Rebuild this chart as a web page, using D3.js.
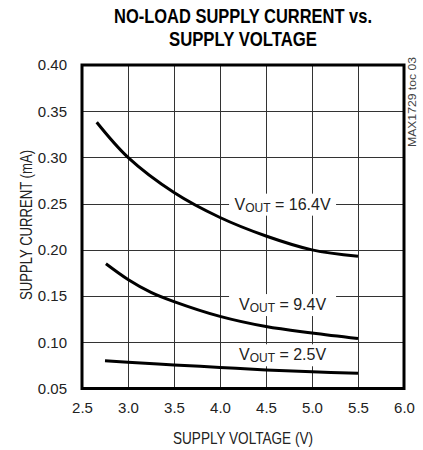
<!DOCTYPE html>
<html lang="en">
<head>
<meta charset="utf-8">
<title>No-load supply current</title>
<script src="https://d3js.org/d3.v7.min.js"></script>
<style>
  body { margin: 0; background: #fff; }
  text { font-family: "Liberation Sans", Arial, sans-serif; fill: #222; }
  .title { font-weight: bold; font-size: 20px; fill: #000; }
  .tick text { font-size: 15px; }
  .axis-title { font-size: 16px; }
  .curve-label { font-size: 16px; }
  .side-note { font-size: 11px; fill: #444; }
</style>
</head>
<body>
<div id="chart"></div>
<script>
// data
var xTicks = [2.5, 3.0, 3.5, 4.0, 4.5, 5.0, 5.5, 6.0];
var yTicks = [0.05, 0.10, 0.15, 0.20, 0.25, 0.30, 0.35, 0.40];

var vin16 = [2.66, 3.0, 3.5, 4.0, 4.5, 5.0, 5.5];
var icc16 = [0.338, 0.300, 0.262, 0.235, 0.215, 0.200, 0.193];

var vin9 = [2.76, 3.0, 3.25, 3.5, 4.0, 4.5, 5.0, 5.5];
var icc9 = [0.185, 0.168, 0.154, 0.144, 0.128, 0.117, 0.110, 0.104];

var vin2 = [2.75, 3.0, 3.5, 4.0, 4.5, 5.0, 5.5];
var icc2 = [0.080, 0.0785, 0.0755, 0.0728, 0.0700, 0.0680, 0.0665];

var seriesNames = ["16.4V", "9.4V", "2.5V"];

var width = 423, height = 450;
var plotL = 82, plotR = 404, plotT = 65, plotB = 388.5;

var x = d3.scaleLinear().domain([2.5, 6.0]).range([plotL, plotR]);
var y = d3.scaleLinear().domain([0.05, 0.40]).range([plotB, plotT]);

var svg = d3.select("#chart").append("svg")
  .attr("width", width)
  .attr("height", height);

// title (condensed face squeezed with textLength)
svg.append("text").attr("class", "title")
  .attr("x", 243).attr("y", 23).attr("text-anchor", "middle")
  .attr("textLength", 258).attr("lengthAdjust", "spacingAndGlyphs")
  .text("NO-LOAD SUPPLY CURRENT vs.");
svg.append("text").attr("class", "title")
  .attr("x", 243).attr("y", 46).attr("text-anchor", "middle")
  .attr("textLength", 148).attr("lengthAdjust", "spacingAndGlyphs")
  .text("SUPPLY VOLTAGE");

// grid
var grid = svg.append("g").attr("stroke", "#333").attr("stroke-width", 1)
  .attr("shape-rendering", "crispEdges");
grid.selectAll(".vg").data(xTicks.slice(1, -1)).enter().append("line")
  .attr("x1", function(d) { return Math.round(x(d)) + 0.5; })
  .attr("x2", function(d) { return Math.round(x(d)) + 0.5; })
  .attr("y1", plotT).attr("y2", plotB);
grid.selectAll(".hg").data(yTicks.slice(1, -1)).enter().append("line")
  .attr("y1", function(d) { return Math.round(y(d)) + 0.5; })
  .attr("y2", function(d) { return Math.round(y(d)) + 0.5; })
  .attr("x1", plotL).attr("x2", plotR);

// axes (labels only)
svg.append("g").attr("transform", "translate(0," + plotB + ")")
  .call(d3.axisBottom(x).tickValues(xTicks).tickFormat(d3.format(".1f")).tickSize(0).tickPadding(14));
svg.append("g").attr("transform", "translate(" + plotL + ",0)")
  .call(d3.axisLeft(y).tickValues(yTicks).tickFormat(d3.format(".2f")).tickSize(0).tickPadding(15));
svg.selectAll(".domain").remove();
svg.selectAll(".tick text").attr("fill", "#222");

svg.append("text").attr("class", "axis-title")
  .attr("x", 243).attr("y", 444).attr("text-anchor", "middle")
  .attr("textLength", 140).attr("lengthAdjust", "spacingAndGlyphs")
  .text("SUPPLY VOLTAGE (V)");
svg.append("text").attr("class", "axis-title")
  .attr("transform", "translate(32,225) rotate(-90)").attr("text-anchor", "middle")
  .attr("textLength", 150).attr("lengthAdjust", "spacingAndGlyphs")
  .text("SUPPLY CURRENT (mA)");

svg.append("text").attr("class", "side-note")
  .attr("transform", "translate(416,147) rotate(-90)")
  .attr("textLength", 90).attr("lengthAdjust", "spacingAndGlyphs")
  .text("MAX1729 toc 03");

// curve labels with white backing
var labelPos = [
  { vx: 4.68, vy: 0.25, dy: 6 },
  { vx: 4.68, vy: 0.15, dy: 14 },
  { vx: 4.68, vy: 0.10, dy: 18 }
];
seriesNames.forEach(function(name, i) {
  var p = labelPos[i];
  var g = svg.append("g");
  var bg = g.append("rect").attr("fill", "#fff");
  var t = g.append("text").attr("class", "curve-label")
    .attr("x", x(p.vx)).attr("y", y(p.vy) + p.dy).attr("text-anchor", "middle");
  t.append("tspan").text("V");
  t.append("tspan").attr("font-size", "12px").attr("dy", 2).text("OUT");
  t.append("tspan").attr("dy", -2).text(" = " + name);
  var b = t.node().getBBox();
  bg.attr("x", x(p.vx) - 53.5).attr("width", 107)
    .attr("y", b.y - 2).attr("height", b.height + 3);
});

// curves
var line = d3.line()
  .x(function(d) { return x(d[0]); })
  .y(function(d) { return y(d[1]); })
  .curve(d3.curveCatmullRom.alpha(0.5));
var series = [d3.zip(vin16, icc16), d3.zip(vin9, icc9), d3.zip(vin2, icc2)];
svg.selectAll(".curve").data(series).enter().append("path")
  .attr("class", "curve")
  .attr("d", line)
  .attr("fill", "none")
  .attr("stroke", "#000")
  .attr("stroke-width", 3);

// frame
svg.append("rect")
  .attr("x", plotL).attr("y", plotT)
  .attr("width", plotR - plotL).attr("height", plotB - plotT)
  .attr("fill", "none").attr("stroke", "#000").attr("stroke-width", 3);
</script>
</body>
</html>
